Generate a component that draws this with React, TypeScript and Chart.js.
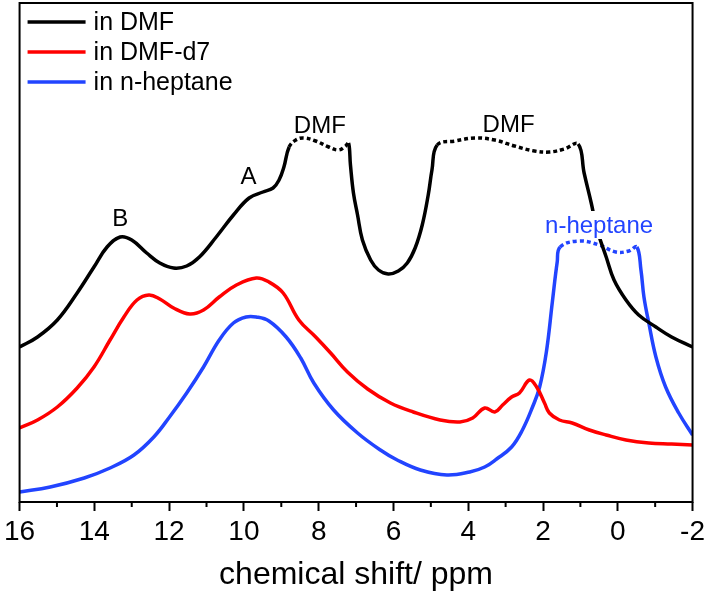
import React, { useEffect, useRef } from "react";
import { Chart, registerables } from "chart.js";

Chart.register(...registerables);

// ---- data (chemical shift in ppm, intensity in a.u.) ----
const blackShift = [16.0, 15.52, 14.99, 14.46, 14.01, 13.66, 13.31, 13.0, 12.6, 12.25, 11.88, 11.53, 11.19, 10.74, 10.28, 9.86, 9.49, 9.22, 9.06, 8.93, 8.79,
  8.61, 8.4, 8.08, 7.73, 7.47, 7.28, 7.2,
  7.15, 7.07, 6.96, 6.83, 6.61, 6.4, 6.14, 5.87, 5.63, 5.42, 5.23, 5.07, 4.97, 4.83,
  4.35, 3.82, 3.29, 2.76, 2.23, 1.83, 1.43, 1.06,
  0.9, 0.71, 0.55, 0.31, 0.1, -0.22, -0.56, -1.02, -1.44, -2.0];
const blackIntensity = [155, 165, 182, 209, 235, 255, 265, 262, 249, 239, 234, 236, 245, 265, 287, 304, 310, 314, 322, 335, 355,
  362, 364, 361, 355, 352, 356, 359,
  337, 309, 287, 262, 242, 232, 228, 231, 239, 254, 277, 307, 332, 357,
  361, 364, 362, 356, 351, 350, 353, 358,
  329, 299, 272, 245, 222, 202, 187, 175, 165, 155];

const redShift = [16.0, 15.52, 14.99, 14.46, 14.01, 13.58, 13.21, 12.86, 12.54, 12.25, 11.88, 11.45, 11.08, 10.66, 10.2, 9.67, 9.33, 8.95, 8.53, 8.08, 7.68, 7.23, 6.69, 6.08,
  5.47, 4.75, 4.22, 3.88, 3.56, 3.29, 3.08, 2.84, 2.63,
  2.36, 2.17, 1.96, 1.83, 1.56, 1.22, 0.76, 0.31, -0.22, -0.83, -1.44, -2.0];
const redIntensity = [74, 82, 95, 114, 135, 162, 185, 202, 207, 203, 194, 188, 192, 205, 217, 224, 220, 209, 182, 165, 149, 130, 113, 99,
  90, 82, 80, 84, 94, 90, 97, 105, 109,
  122, 115, 99, 89, 82, 79, 72, 67, 62, 59, 58, 57];

const blueShift = [16.0, 15.18, 14.27, 13.58, 12.94, 12.41, 11.99, 11.53, 11.08, 10.66, 10.28, 9.94, 9.67, 9.33, 8.87, 8.48, 8.13, 7.6, 6.96, 6.35, 5.9,
  5.28, 4.57, 3.96, 3.56, 3.24, 2.84, 2.55, 2.28, 2.09, 1.91, 1.75, 1.62, 1.54,
  1.03, 0.5, 0.05, -0.3, -0.51,
  -0.62, -0.7, -0.83, -1.02, -1.28, -1.63, -2.0];
const blueIntensity = [10, 15, 24, 34, 47, 65, 85, 109, 135, 162, 179, 185, 185, 181, 165, 144, 119, 92, 69, 52, 42,
  32, 27, 30, 35, 43, 55, 72, 95, 115, 150, 200, 240, 255,
  261, 257, 250, 251, 255,
  232, 205, 179, 145, 115, 89, 67];

// clipped (solvent-saturated) ranges drawn dotted
const blackDotted = [[7.2, 8.79], [1.06, 4.83]];
const blueDotted = [[-0.51, 1.54]];

const seriesNames = ["in DMF", "in DMF-d7", "in n-heptane"];
const seriesColors = ["#000000", "#ff0000", "#2244ff"];

const xMajorTicks = [16, 14, 12, 10, 8, 6, 4, 2, 0, -2];
const xMinorTicks = [15, 13, 11, 9, 7, 5, 3, 1, -1];

const annotations = [
  { text: "B", shift: 13.31, intensity: 276, color: "#000000", boxed: false },
  { text: "A", shift: 9.88, intensity: 318, color: "#000000", boxed: false },
  { text: "DMF", shift: 7.97, intensity: 369, color: "#000000", boxed: false },
  { text: "DMF", shift: 2.92, intensity: 370, color: "#000000", boxed: false },
  { text: "n-heptane", shift: 0.5, intensity: 269, color: "#2244ff", boxed: true },
];

const FONT = "'Liberation Sans', Arial, Helvetica, sans-serif";

const toPoints = (xs: number[], ys: number[]) => xs.map((x, i) => ({ x, y: ys[i] }));

const dashFor = (ranges: number[][]) => (ctx: any) => {
  const a = ctx.p0.parsed.x;
  const b = ctx.p1.parsed.x;
  for (const [lo, hi] of ranges) {
    if (a >= lo - 1e-6 && a <= hi + 1e-6 && b >= lo - 1e-6 && b <= hi + 1e-6) return [4, 3];
  }
  return undefined;
};

const decorPlugin = {
  id: "decor",
  afterDraw(chart: any) {
    const { ctx, chartArea } = chart;
    const { left, right, top, bottom } = chartArea;
    const xs = chart.scales.x;
    const ys = chart.scales.y;
    ctx.save();
    // frame
    ctx.strokeStyle = "#000";
    ctx.lineWidth = 2;
    ctx.strokeRect(left, top, right - left, bottom - top);
    // minor ticks
    ctx.beginPath();
    for (const v of xMinorTicks) {
      const px = xs.getPixelForValue(v);
      ctx.moveTo(px, bottom);
      ctx.lineTo(px, bottom + 5);
    }
    ctx.stroke();
    // annotations
    ctx.font = `24px ${FONT}`;
    ctx.textAlign = "center";
    ctx.textBaseline = "alphabetic";
    for (const a of annotations) {
      const px = xs.getPixelForValue(a.shift);
      const py = ys.getPixelForValue(a.intensity);
      if (a.boxed) {
        const w = ctx.measureText(a.text).width;
        ctx.fillStyle = "#fff";
        ctx.fillRect(px - w / 2 - 1, py - 22, w + 2, 28);
      }
      ctx.fillStyle = a.color;
      ctx.fillText(a.text, px, py);
    }
    // legend
    ctx.font = `25px ${FONT}`;
    ctx.textAlign = "left";
    ctx.textBaseline = "middle";
    seriesNames.forEach((name, i) => {
      const y = top + 19 + i * 30;
      ctx.strokeStyle = seriesColors[i];
      ctx.lineWidth = 3.5;
      ctx.beginPath();
      ctx.moveTo(left + 8, y);
      ctx.lineTo(left + 66, y);
      ctx.stroke();
      ctx.fillStyle = "#000";
      ctx.fillText(name, left + 74, y + 1);
    });
    ctx.restore();
  },
};

export default function App() {
  const ref = useRef<HTMLCanvasElement | null>(null);
  useEffect(() => {
    if (!ref.current) return;
    const common = {
      borderWidth: 3.5,
      pointRadius: 0,
      fill: false,
      tension: 0.4,
      borderCapStyle: "butt" as const,
      borderJoinStyle: "round" as const,
    };
    const chart = new Chart(ref.current, {
      type: "line",
      data: {
        datasets: [
          { ...common, label: seriesNames[0], data: toPoints(blackShift, blackIntensity), borderColor: seriesColors[0], segment: { borderDash: dashFor(blackDotted) } },
          { ...common, label: seriesNames[1], data: toPoints(redShift, redIntensity), borderColor: seriesColors[1] },
          { ...common, label: seriesNames[2], data: toPoints(blueShift, blueIntensity), borderColor: seriesColors[2], segment: { borderDash: dashFor(blueDotted) } },
        ],
      },
      options: {
        animation: false,
        responsive: false,
        layout: { padding: { left: 17, right: 15, top: 3, bottom: 2 } },
        plugins: { legend: { display: false }, tooltip: { enabled: false } },
        scales: {
          x: {
            type: "linear",
            min: -2,
            max: 16,
            reverse: true,
            border: { display: false },
            afterFit: (scale: any) => {
              scale.height = 93;
            },
            grid: {
              drawOnChartArea: false,
              drawTicks: true,
              tickLength: 9,
              tickWidth: 2,
              tickColor: (c: any) => (xMajorTicks.includes(c.tick?.value) ? "#000" : "rgba(0,0,0,0)"),
            },
            ticks: {
              stepSize: 1,
              autoSkip: false,
              maxRotation: 0,
              padding: 4,
              color: "#000",
              font: { family: FONT, size: 28 },
              callback: (v: any) => (xMajorTicks.includes(Number(v)) ? String(v) : ""),
            },
            title: {
              display: true,
              text: "chemical shift/ ppm",
              color: "#000",
              font: { family: FONT, size: 32 },
              padding: { top: 2, bottom: 1 },
            },
          },
          y: {
            display: false,
            min: 0,
            max: 499,
          },
        },
      },
      plugins: [decorPlugin],
    });
    return () => chart.destroy();
  }, []);
  return (
    <div style={{ position: "fixed", left: 0, top: 0, width: 709, height: 597, background: "#fff" }}>
      <canvas ref={ref} width={709} height={597} style={{ width: 709, height: 597 }} />
    </div>
  );
}
